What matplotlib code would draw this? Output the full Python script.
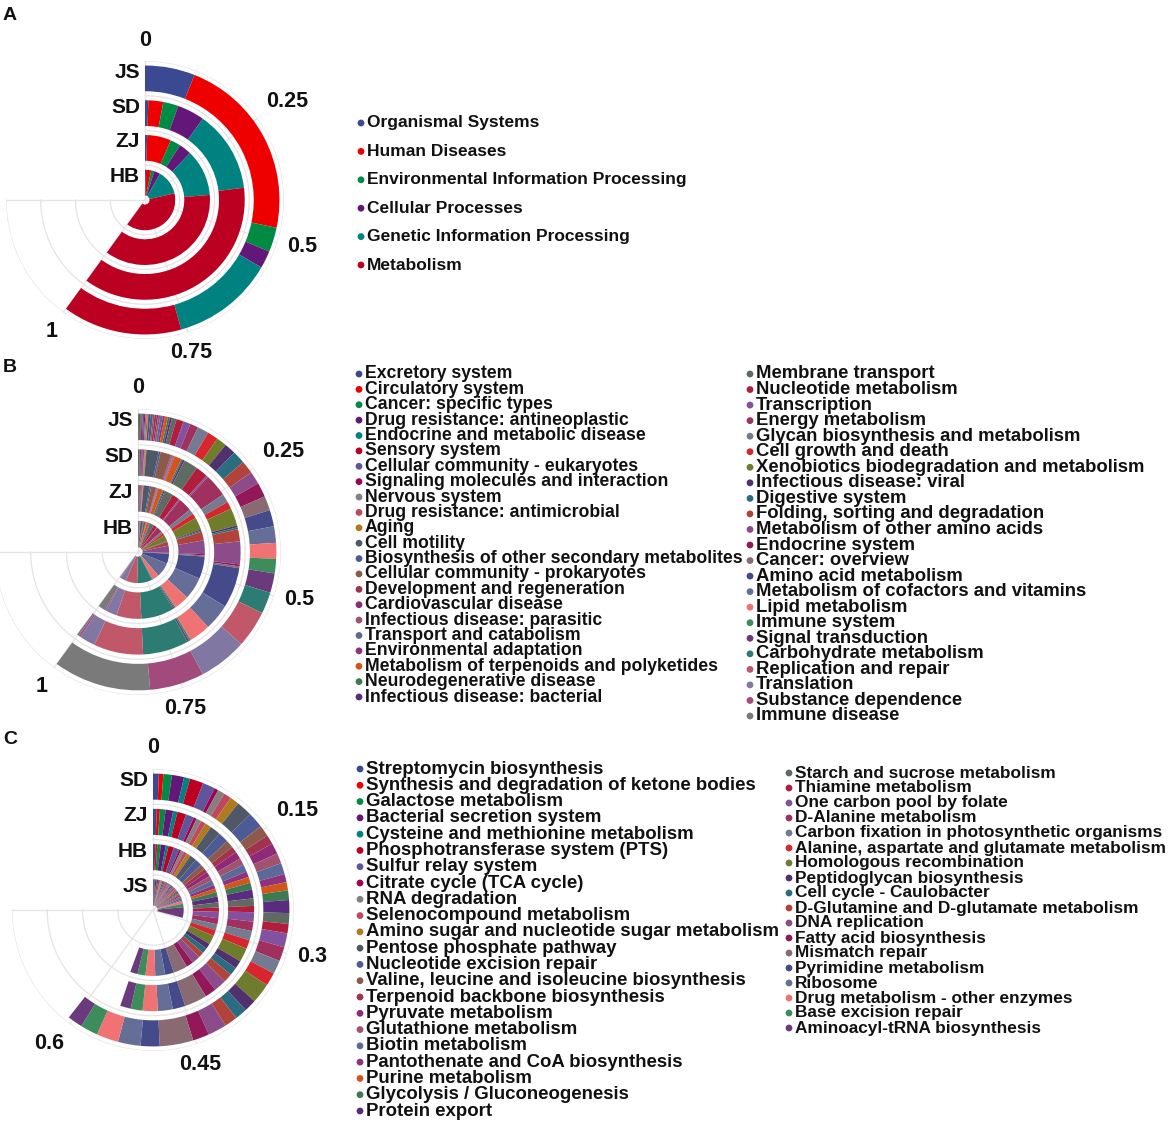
import numpy as np
import matplotlib
matplotlib.use("Agg")
import matplotlib.pyplot as plt

plt.rcParams['font.family'] = ['Liberation Sans', 'DejaVu Sans']
plt.rcParams['font.weight'] = 'bold'

W, H = 1170, 1126

# ---------------- data ----------------
palette = ["#3B4992", "#EE0000", "#008B45", "#631879", "#008280", "#BB0021", "#5F559B", "#A20056", "#808180",
           "#C0485E", "#B07A1E", "#4F5866", "#4E5A96", "#8B5A4A", "#A2334F", "#8E2A78", "#A0526E", "#5C6A98",
           "#8E3280", "#D2561A", "#3C7A52", "#5A2C80",
           "#5E6B62", "#B01E3C", "#8252A0", "#A0305E", "#747A90", "#D8262E", "#6E7C2C", "#51306E", "#2C6C80",
           "#B0443A", "#8C4C8C", "#92185A", "#8A6A72", "#444A8A", "#646E96", "#F07272", "#3C8C5C", "#6A3A7C",
           "#2C7C74", "#C0586A", "#8078A2", "#A24A7C", "#7A7A7A"]

# panel A
a_groups = ["Organismal Systems", "Human Diseases", "Environmental Information Processing",
            "Cellular Processes", "Genetic Information Processing", "Metabolism"]
a_rings = ["HB", "ZJ", "SD", "JS"]
a_HB = [0.010, 0.045, 0.028, 0.055, 0.220, 0.642]
a_ZJ = [0.009, 0.099, 0.043, 0.052, 0.193, 0.604]
a_SD = [0.009, 0.040, 0.041, 0.074, 0.220, 0.616]
a_JS = [0.100, 0.372, 0.049, 0.035, 0.205, 0.239]

# panel B
b_col1 = ["Excretory system", "Circulatory system", "Cancer: specific types", "Drug resistance: antineoplastic",
          "Endocrine and metabolic disease", "Sensory system", "Cellular community - eukaryotes",
          "Signaling molecules and interaction", "Nervous system", "Drug resistance: antimicrobial", "Aging",
          "Cell motility", "Biosynthesis of other secondary metabolites", "Cellular community - prokaryotes",
          "Development and regeneration", "Cardiovascular disease", "Infectious disease: parasitic",
          "Transport and catabolism", "Environmental adaptation", "Metabolism of terpenoids and polyketides",
          "Neurodegenerative disease", "Infectious disease: bacterial"]
b_col2 = ["Membrane transport", "Nucleotide metabolism", "Transcription", "Energy metabolism",
          "Glycan biosynthesis and metabolism", "Cell growth and death", "Xenobiotics biodegradation and metabolism",
          "Infectious disease: viral", "Digestive system", "Folding, sorting and degradation",
          "Metabolism of other amino acids", "Endocrine system", "Cancer: overview", "Amino acid metabolism",
          "Metabolism of cofactors and vitamins", "Lipid metabolism", "Immune system", "Signal transduction",
          "Carbohydrate metabolism", "Replication and repair", "Translation", "Substance dependence",
          "Immune disease"]
b_rings = ["HB", "ZJ", "SD", "JS"]
b_HB = [0.002, 0.002, 0.002, 0.002, 0.002, 0.002, 0.002, 0.002, 0.002, 0.002, 0.002, 0.020, 0.006, 0.020,
        0.002, 0.002, 0.002, 0.002, 0.002, 0.020, 0.004, 0.005,
        0.035, 0.030, 0.005, 0.050, 0.020, 0.020, 0.050, 0.005, 0.005, 0.035, 0.060, 0.005, 0.005, 0.085,
        0.128, 0.055, 0.005, 0.005, 0.130, 0.100, 0.050, 0.005, 0.005]
b_ZJ = [0.002, 0.002, 0.002, 0.002, 0.002, 0.002, 0.002, 0.002, 0.002, 0.002, 0.002, 0.025, 0.006, 0.020,
        0.002, 0.002, 0.002, 0.002, 0.002, 0.018, 0.004, 0.005,
        0.035, 0.030, 0.005, 0.055, 0.020, 0.020, 0.050, 0.005, 0.005, 0.035, 0.055, 0.005, 0.005, 0.090,
        0.090, 0.060, 0.005, 0.005, 0.135, 0.100, 0.045, 0.005, 0.030]
b_SD = [0.002, 0.002, 0.002, 0.002, 0.002, 0.002, 0.002, 0.002, 0.002, 0.002, 0.002, 0.032, 0.005, 0.028,
        0.002, 0.002, 0.002, 0.002, 0.002, 0.019, 0.004, 0.005,
        0.037, 0.032, 0.005, 0.060, 0.023, 0.019, 0.046, 0.005, 0.005, 0.032, 0.060, 0.005, 0.005, 0.106,
        0.069, 0.056, 0.005, 0.005, 0.120, 0.130, 0.042, 0.005, 0.005]
b_JS = [0.001, 0.001, 0.002, 0.001, 0.002, 0.002, 0.003, 0.002, 0.003, 0.002, 0.001, 0.004, 0.005, 0.003,
        0.004, 0.003, 0.004, 0.005, 0.004, 0.006, 0.004, 0.004,
        0.009, 0.014, 0.014, 0.016, 0.022, 0.021, 0.020, 0.022, 0.025, 0.025, 0.025, 0.028, 0.028, 0.032,
        0.032, 0.031, 0.028, 0.038, 0.042, 0.072, 0.094, 0.106, 0.190]

# panel C
c_col1 = ["Streptomycin biosynthesis", "Synthesis and degradation of ketone bodies", "Galactose metabolism",
          "Bacterial secretion system", "Cysteine and methionine metabolism", "Phosphotransferase system (PTS)",
          "Sulfur relay system", "Citrate cycle (TCA cycle)", "RNA degradation", "Selenocompound metabolism",
          "Amino sugar and nucleotide sugar metabolism", "Pentose phosphate pathway", "Nucleotide excision repair",
          "Valine, leucine and isoleucine biosynthesis", "Terpenoid backbone biosynthesis", "Pyruvate metabolism",
          "Glutathione metabolism", "Biotin metabolism", "Pantothenate and CoA biosynthesis", "Purine metabolism",
          "Glycolysis / Gluconeogenesis", "Protein export"]
c_col2 = ["Starch and sucrose metabolism", "Thiamine metabolism", "One carbon pool by folate",
          "D-Alanine metabolism", "Carbon fixation in photosynthetic organisms",
          "Alanine, aspartate and glutamate metabolism", "Homologous recombination", "Peptidoglycan biosynthesis",
          "Cell cycle - Caulobacter", "D-Glutamine and D-glutamate metabolism", "DNA replication",
          "Fatty acid biosynthesis", "Mismatch repair", "Pyrimidine metabolism", "Ribosome",
          "Drug metabolism - other enzymes", "Base excision repair", "Aminoacyl-tRNA biosynthesis"]
c_rings = ["JS", "HB", "ZJ", "SD"]
c_JS = [0.0040, 0.0030, 0.0050, 0.0060, 0.0040, 0.0060, 0.0060, 0.0030, 0.0040, 0.0040,
        0.0050, 0.0070, 0.0070, 0.0050, 0.0050, 0.0050, 0.0050, 0.0050, 0.0040, 0.0040,
        0.0050, 0.0060, 0.0050, 0.0040, 0.0060, 0.0060, 0.0060, 0.0060, 0.0080, 0.0050,
        0.0050, 0.0050, 0.0070, 0.0060, 0.0100, 0.0070, 0.0080, 0.0150, 0.0180, 0.0560]
c_HB = [0.0060, 0.0045, 0.0085, 0.0125, 0.0065, 0.0135, 0.0135, 0.0050, 0.0075, 0.0085,
        0.0100, 0.0165, 0.0175, 0.0125, 0.0100, 0.0115, 0.0115, 0.0125, 0.0090, 0.0090,
        0.0110, 0.0145, 0.0125, 0.0105, 0.0155, 0.0150, 0.0150, 0.0145, 0.0215, 0.0135,
        0.0135, 0.0140, 0.0195, 0.0175, 0.0350, 0.0210, 0.0245, 0.0240, 0.0195, 0.0180]
c_ZJ = [0.0060, 0.0050, 0.0090, 0.0120, 0.0070, 0.0140, 0.0130, 0.0050, 0.0080, 0.0080,
        0.0100, 0.0170, 0.0170, 0.0120, 0.0100, 0.0120, 0.0110, 0.0120, 0.0090, 0.0095,
        0.0110, 0.0140, 0.0120, 0.0100, 0.0150, 0.0150, 0.0150, 0.0140, 0.0220, 0.0130,
        0.0130, 0.0140, 0.0200, 0.0180, 0.0360, 0.0200, 0.0240, 0.0240, 0.0190, 0.0170]
c_SD = [0.0069, 0.0053, 0.0100, 0.0144, 0.0072, 0.0161, 0.0147, 0.0047, 0.0083, 0.0089,
        0.0108, 0.0189, 0.0186, 0.0133, 0.0111, 0.0128, 0.0122, 0.0133, 0.0097, 0.0097,
        0.0114, 0.0153, 0.0128, 0.0111, 0.0167, 0.0167, 0.0161, 0.0158, 0.0236, 0.0147,
        0.0144, 0.0153, 0.0222, 0.0194, 0.0397, 0.0225, 0.0267, 0.0261, 0.0206, 0.0178]

a_ticks = ["0", "0.25", "0.5", "0.75", "1"]
c_ticks = ["0", "0.15", "0.3", "0.45", "0.6"]

fig = plt.figure(figsize=(W / 100, H / 100), dpi=100)
fig.patch.set_facecolor("white")

GRID = "#e4e4e4"
TXT = "#111111"


def polar_panel(cx, cy, R, rings, ring_vals, ticks, tick_max):
    ax = fig.add_axes([(cx - R) / W, 1 - (cy + R) / H, 2 * R / W, 2 * R / H], projection="polar")
    ax.set_theta_zero_location("N")
    ax.set_theta_direction(-1)
    ax.set_axis_off()
    deg_per_unit = 216.0 / tick_max

    # light grid, 3/4 of the circle
    arc = np.deg2rad(np.linspace(0, 270, 300))
    for r in [1, 2, 3, 4]:
        ax.plot(arc, np.full_like(arc, r), color=GRID, lw=0.9, zorder=0)
    for k in range(6):
        th = np.deg2rad(54 * k)
        ax.plot([th, th], [0, 4], color=GRID, lw=0.9, zorder=0)

    for i, vals in enumerate(ring_vals):
        vals = np.array(vals)
        start = np.concatenate([[0], np.cumsum(vals)[:-1]])
        ax.bar(np.deg2rad(start * deg_per_unit), 0.74, width=np.deg2rad(vals * deg_per_unit),
               bottom=i + 0.13, align="edge", color=palette[:len(vals)], linewidth=0, zorder=2)
        ax.annotate(rings[i], xy=(0, i + 0.5), xytext=(-5, 6), textcoords="offset pixels",
                    ha="right", va="center", fontsize=15, fontweight="bold", color=TXT)

    for k, lab in enumerate(ticks):
        th = np.deg2rad(54 * k)
        s, c = np.sin(th), np.cos(th)
        ha = "left" if s > 0.4 else ("right" if s < -0.4 else "center")
        va = "bottom" if c > 0.4 else ("top" if c < -0.4 else "center")
        ax.text(th, 4.3, lab, ha=ha, va=va, fontsize=15.5, fontweight="bold", color=TXT)

    ax.set_ylim(0, 4)
    return ax


polar_panel(145, 200, 139, a_rings, [a_HB, a_ZJ, a_SD, a_JS], a_ticks, 1.0)
polar_panel(138, 552, 143, b_rings, [b_HB, b_ZJ, b_SD, b_JS], a_ticks, 1.0)
polar_panel(153, 910, 141, c_rings, [c_JS, c_HB, c_ZJ, c_SD], c_ticks, 0.6)

# overlay in pixel coordinates for legends and panel letters
ov = fig.add_axes([0, 0, 1, 1])
ov.set_xlim(0, W)
ov.set_ylim(H, 0)
ov.set_axis_off()


def legend_col(names, colors, x, y0, y1, size):
    ys = np.linspace(y0, y1, len(names))
    ov.scatter([x] * len(names), ys, s=24, c=colors, linewidths=0, zorder=3)
    for n, y in zip(names, ys):
        ov.text(x + 6, y, n, ha="left", va="center", fontsize=size, fontweight="bold", color=TXT)


legend_col(a_groups, palette[:6], 361, 123, 265, 12.5)
legend_col(b_col1, palette[:22], 359, 374, 697, 12.7)
legend_col(b_col2, palette[22:45], 750, 374, 716, 13.3)
legend_col(c_col1, palette[:22], 360, 769, 1111, 13.45)
legend_col(c_col2, palette[22:40], 789, 773, 1028, 12.4)

for lab, y in [("A", 16), ("B", 368), ("C", 740)]:
    ov.text(3, y, lab, ha="left", va="center", fontsize=14, fontweight="bold", color=TXT)

fig.savefig("out.png", dpi=100, facecolor="white")
